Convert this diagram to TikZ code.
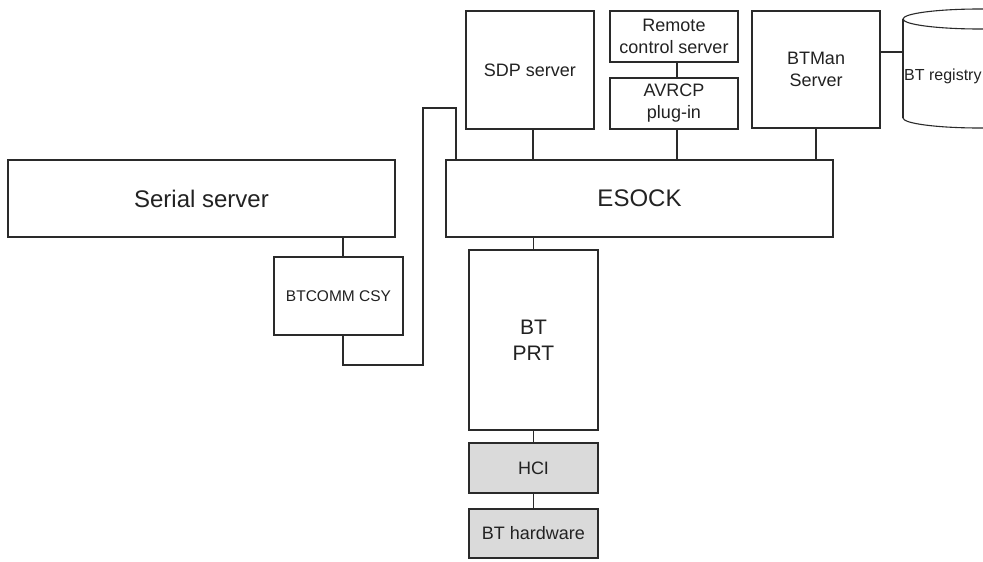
\documentclass[tikz,border=0pt]{standalone}
\usepackage{fontspec}
\setmainfont{Liberation Sans}
\definecolor{ln}{HTML}{2A2A2A}
\definecolor{tx}{HTML}{222222}
\definecolor{hw}{HTML}{DADADA}
\begin{document}
\begin{tikzpicture}[x=1pt,y=-1pt,
  every node/.style={text=tx},
  box/.style={draw=ln,line width=1.1pt,fill=white,inner sep=0pt,align=center,
     font=\fontsize{18}{22}\selectfont},
  big/.style={font=\fontsize{24}{28}\selectfont},
  grey/.style={fill=hw},
  conn/.style={draw=ln,line width=1.1pt}]
\useasboundingbox (0,0) rectangle (983,562);
% boxes
\node[box,big,minimum width=387pt,minimum height=77pt] (serial) at (201.5,198.5) {Serial server};
\node[box,big,minimum width=387pt,minimum height=77pt] (esock) at (639.5,198.5) {ESOCK};
\node[box,minimum width=129pt,minimum height=78pt,font=\fontsize{15.5}{19}\selectfont] (btcomm) at (338.5,296) {BTCOMM CSY};
\node[box,minimum width=128pt,minimum height=118pt] (sdp) at (530,70) {SDP server};
\node[box,minimum width=128pt,minimum height=51pt] (remote) at (674,36.5) {Remote\\control server};
\node[box,minimum width=128pt,minimum height=51pt] (avrcp) at (674,103.5) {AVRCP\\plug-in};
\node[box,minimum width=128pt,minimum height=117pt] (btman) at (816,69.5) {BTMan\\Server};
\node[box,minimum width=129pt,minimum height=180pt,font=\fontsize{21}{26}\selectfont] (btprt) at (533.5,340) {BT\\PRT};
\node[box,grey,minimum width=129pt,minimum height=50pt] (hci) at (533.5,468) {HCI};
\node[box,grey,minimum width=129pt,minimum height=49pt] (bthw) at (533.5,533.5) {BT hardware};
% registry cylinder
\draw[conn] (980,19) ellipse [x radius=77, y radius=10];
\draw[conn] (903,19) -- (903,118);
\begin{scope}
\clip (900,118) rectangle (1070,140);
\draw[conn] (980,118) ellipse [x radius=77, y radius=10];
\end{scope}
\node[font=\fontsize{16}{19}\selectfont,anchor=west,inner sep=0pt] (reg) at (904,76) {BT registry};
\coordinate (regw) at (903,52);
% connectors
\coordinate (cx) at (343,0);
\coordinate (ax) at (533,0);
\coordinate (vx) at (677,0);
\coordinate (r1) at (423,365);
\coordinate (r2) at (456,108);
\draw[conn] (serial.south -| cx) -- (btcomm.north -| cx);
\draw[conn] (btcomm.south -| cx) |- (r1) |- (r2) -- (r2 |- esock.north);
\draw[conn] (sdp.south -| ax) -- (esock.north -| ax);
\draw[conn] (remote.south -| vx) -- (avrcp.north -| vx);
\draw[conn] (avrcp.south -| vx) -- (esock.north -| vx);
\draw[conn] (btman.south) -- (btman.south |- esock.north);
\draw[conn] (btman.east |- regw) -- (regw);
\draw[conn] (btprt.north) -- (btprt.north |- esock.south);
\draw[conn] (btprt.south) -- (hci.north);
\draw[conn] (hci.south) -- (bthw.north);
\end{tikzpicture}
\end{document}
